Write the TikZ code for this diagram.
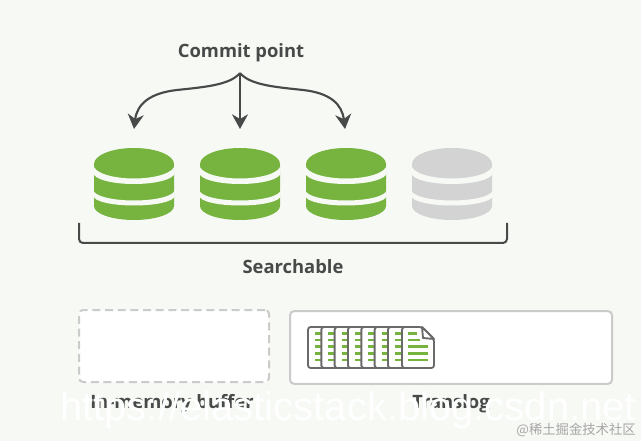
\documentclass[tikz,border=0pt]{standalone}
\usepackage{fontspec}
\setmainfont{Open Sans}
\newfontfamily\wmfont{Liberation Sans}
\newfontfamily\cjkfont{Noto Sans CJK SC}
\usetikzlibrary{arrows.meta}
\definecolor{bgc}{HTML}{F7F9F5}
\definecolor{greenc}{HTML}{76B43F}
\definecolor{grayc}{HTML}{D3D3D3}
\definecolor{inkc}{HTML}{484A4A}
\definecolor{boxc}{HTML}{CBCBCB}
\definecolor{docc}{HTML}{6A6A6A}
\tikzset{
  lbl/.style={font=\fontsize{13.8pt}{16pt}\selectfont\bfseries,text=inkc,inner sep=0pt},
  conn/.style={draw=inkc,line width=1.6pt,-{Stealth[length=11pt,width=12pt,inset=3.5pt]}},
  doc/.style={draw=docc,fill=white,line width=1.4pt,rounded corners=2pt},
  docline/.style={draw=greenc,line width=1.6pt}
}
\newcommand{\dbstack}[3]{% x, name, colour
  \coordinate (#2) at (#1,184);
  \fill[#3] (#1-40,164) arc[start angle=180,end angle=360,x radius=40,y radius=16]
    -- (#1+40,206) arc[start angle=0,end angle=180,x radius=40,y radius=14] -- cycle;
  \fill[bgc] (#1-40.5,165) arc[start angle=180,end angle=0,x radius=40.5,y radius=13.5]
    -- (#1+40.5,173) arc[start angle=0,end angle=180,x radius=40.5,y radius=11] -- cycle;
  \fill[bgc] (#1-40.5,190) arc[start angle=180,end angle=0,x radius=40.5,y radius=10.5]
    -- (#1+40.5,196) arc[start angle=0,end angle=180,x radius=40.5,y radius=9.5] -- cycle;
}
\begin{document}
\begin{tikzpicture}[x=0.75pt,y=-0.75pt]
\useasboundingbox (0,0) rectangle (641,441);
\fill[bgc] (0,0) rectangle (641,441);
\node[lbl] (commit) at (241,53) {Commit point};
\coordinate (src) at (240,73);
\coordinate (a1) at (134,129);
\coordinate (a2) at (240,129);
\coordinate (a3) at (345,129);
\draw[conn] (src) .. controls (230,85) and (205,87) .. (177,90) .. controls (150,93) and (137,104) .. (a1);
\draw[conn] (src) -- (a2);
\draw[conn] (src) .. controls (250,85) and (275,87) .. (303,90) .. controls (330,93) and (342,104) .. (a3);
\dbstack{134}{db1}{greenc}
\dbstack{240}{db2}{greenc}
\dbstack{346}{db3}{greenc}
\dbstack{452}{db4}{grayc}
\coordinate (bl) at (79,223);
\coordinate (br) at (507,223);
\draw[inkc,line width=1.5pt,rounded corners=3pt] (bl) -- (79,243) -- (507,243) -- (br);
\node[lbl] (searchable) at (293,267) {Searchable};
\node[draw=boxc,fill=white,line width=1.5pt,dash pattern=on 6pt off 3.5pt,rounded corners=3pt,
  minimum width=142.5pt,minimum height=54pt,inner sep=0pt] (buffer) at (174,346) {};
\node[draw=boxc,fill=white,line width=1.5pt,rounded corners=3pt,
  minimum width=241.5pt,minimum height=54.5pt,inner sep=0pt] (tlog) at (451,347.5) {};
\foreach \i in {0,...,6}{
  \pgfmathsetmacro{\xx}{308+13.33*\i}
  \draw[doc] (\xx,327) rectangle (\xx+32,368);
  \foreach \yy in {333.5,340,346.5,353.5,360}
    \draw[docline] (\xx+7,\yy) -- (\xx+13.3,\yy);
}
\draw[doc] (402,327) -- (422,327) -- (434,339) -- (434,368) -- (402,368) -- cycle;
\draw[draw=docc,fill=white,line width=1.4pt,line join=round] (422,327) -- (423,338) -- (434,339) -- cycle;
\foreach \yy/\xe in {333.5/417,340/420,346.5/428,353.5/428,360/428}
  \draw[docline] (408,\yy) -- (\xe,\yy);
\node[lbl] (mem) at (172,404) {In-memory buffer};
\node[lbl] (trans) at (451,404) {Translog};
\node[inner sep=0pt,anchor=base west,text=white,font=\wmfont\fontsize{30pt}{32pt}\selectfont] (wm) at (60,420) {https://elasticstack.blog.csdn.net};
\node[inner sep=0pt,anchor=east,text=gray!70,font=\cjkfont\fontsize{10pt}{12pt}\selectfont] (mark) at (636,430) {@稀土掘金技术社区};
\end{tikzpicture}
\end{document}
